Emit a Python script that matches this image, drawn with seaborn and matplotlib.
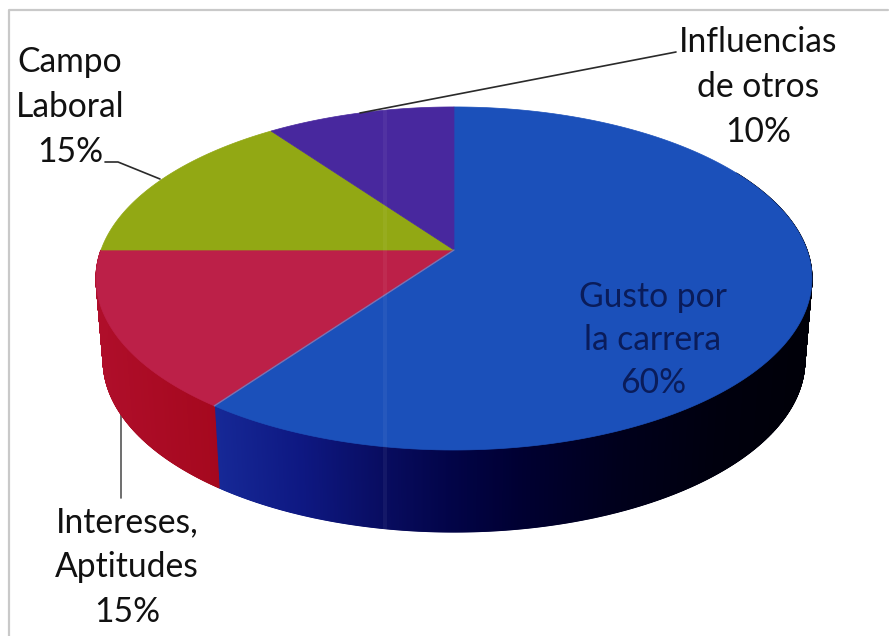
import numpy as np
import matplotlib
matplotlib.use("Agg")
import matplotlib.pyplot as plt
import seaborn as sns

# data
categories = ["Gusto por\nla carrera\n60%", "Intereses,\nAptitudes\n15%", "Campo\nLaboral\n15%", "Influencias\nde otros\n10%"]
values = [60, 15, 15, 10]
top_colors = ["#1B50BA", "#BC2048", "#92A814", "#48289E"]

sns.set_theme(style="white")
plt.rcParams['font.family'] = ['Lato', 'DejaVu Sans']
palette = sns.color_palette(top_colors)

W, H = 889, 636
fig = plt.figure(figsize=(W / 100, H / 100), dpi=100, facecolor="white")
ax = fig.add_axes([0, 0, 1, 1])
ax.set_xlim(0, W)
ax.set_ylim(H, 0)
ax.axis("off")

# perspective of the pie
CX, CY, RX, RY, K, DEPTH, SHRINK = 454, 250, 353, 166.8, 0.166, 82, 0.98


def project(theta):
    u, v = np.sin(theta), np.cos(theta)
    d = 1 + K * v
    return CX + RX * u / d, CY - RY * v / d


def bottom(theta):
    x, y = project(theta)
    return CX + (x - CX) * SHRINK, y + DEPTH


def side_color(idx, x):
    if idx == 0:
        xs = [216, 300, 385, 450, 520, 620, 720, 812]
        r = [22, 14, 8, 2, 0, 0, 0, 0]
        g = [40, 24, 12, 4, 0, 0, 0, 0]
        b = [150, 130, 95, 72, 50, 28, 14, 8]
    else:
        xs = [96, 216]
        r = [175, 165]
        g = [14, 8]
        b = [42, 30]
    return (np.interp(x, xs, r) / 255, np.interp(x, xs, g) / 255, np.interp(x, xs, b) / 255)


edges = np.radians(np.concatenate([[0], np.cumsum(values)]) * 3.6)

# side wall (only the two front slices show one)
for i in range(2):
    a0, a1 = max(edges[i], np.radians(60)), edges[i + 1]
    steps = np.linspace(a0, a1, int((a1 - a0) * 400) + 2)
    for s0, s1 in zip(steps[:-1], steps[1:]):
        x0, y0 = project(s0)
        x1, y1 = project(s1)
        x2, y2 = bottom(s1)
        x3, y3 = bottom(s0)
        c = side_color(i, (x0 + x1) / 2)
        ax.fill([x0, x1, x2, x3], [y0, y1, y2, y3], color=c, lw=0.8, zorder=2)

# top faces
for i in range(len(values)):
    th = np.linspace(edges[i], edges[i + 1], 200)
    x, y = project(th)
    ax.fill(np.r_[CX, x], np.r_[CY, y], color=palette[i], lw=0.5, zorder=3)

# faint seam between blue and red
sx, sy = project(edges[1])
ax.plot([CX, sx], [CY, sy], color="#6F84C8", lw=1, alpha=0.8, zorder=4)

# scan streak
ax.plot([385, 385], [108, 528], color="white", lw=3, alpha=0.05, zorder=5)

# frame
ax.plot([9, 9, 888], [636, 10, 10], color="#C9C9C9", lw=1.6, zorder=1)

# leader lines
leader = "#2A2A2A"
ax.plot([360, 676], [113, 52], color=leader, lw=1.2, zorder=6)
ax.plot([105, 118, 160], [162, 162, 179], color=leader, lw=1.2, zorder=6)
ax.plot([121, 121], [408, 498], color="#555555", lw=1.2, zorder=1)

# labels
label_xy = [(653, 340), (127, 567), (70, 107), (758, 87)]
label_col = ["#0A1C5A", "#111111", "#111111", "#111111"]
label_space = [1.42, 1.5, 1.5, 1.5]
for txt, (x, y), c, sp in zip(categories, label_xy, label_col, label_space):
    ax.text(x, y, txt, ha="center", va="center", fontsize=24.2, color=c,
            linespacing=sp, zorder=7, multialignment="center")

fig.savefig("out.png", dpi=100, facecolor="white")
